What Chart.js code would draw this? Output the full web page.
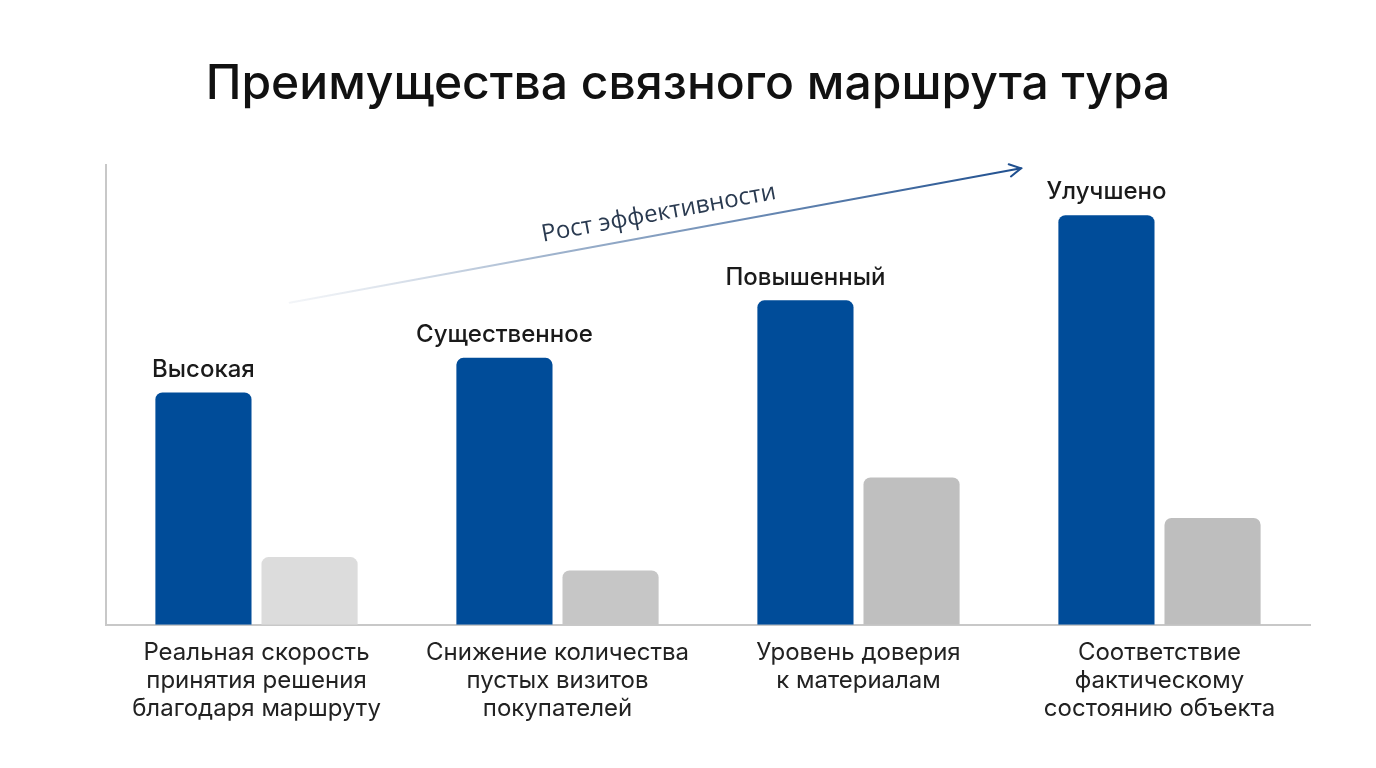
<!DOCTYPE html>
<html lang="ru">
<head>
<meta charset="utf-8">
<title>Преимущества связного маршрута тура</title>
<script src="https://cdn.jsdelivr.net/npm/chart.js@4.4.1/dist/chart.umd.min.js"></script>
<style>
    html, body { margin: 0; padding: 0; background: #ffffff; }
    #wrap { width: 1376px; height: 768px; position: relative; }
</style>
</head>
<body>
<div id="wrap"><canvas id="chart"></canvas></div>
<script>
    // Categories (multi-line axis labels)
    const categories = [
        ['Реальная скорость', 'принятия решения', 'благодаря маршруту'],
        ['Снижение количества', 'пустых визитов', 'покупателей'],
        ['Уровень доверия', 'к материалам'],
        ['Соответствие', 'фактическому', 'состоянию объекта']
    ];

    // Series values (relative scale 0-100)
    const improvedValues = [50.5, 58, 70.5, 89];
    const baselineValues = [14.7, 11.8, 32, 23.2];

    // Labels above the blue bars
    const barLabels = ['Высокая', 'Существенное', 'Повышенный', 'Улучшено'];

    const trendLabel = 'Рост эффективности';

    const colors = {
        blue: '#004c99',
        grays: ['#dcdcdc', '#c6c6c6', '#bfbfbf', '#bebebe'],
        axis: '#c8c8c8',
        text: '#1a1a1a',
        arrowEnd: '#1f4f8f'
    };

    // Labels drawn above each blue bar
    const barLabelPlugin = {
        id: 'barLabels',
        afterDatasetsDraw(chart) {
            const ctx = chart.ctx;
            const meta = chart.getDatasetMeta(0);
            ctx.save();
            ctx.font = '500 24px Inter, sans-serif';
            ctx.fillStyle = colors.text;
            ctx.textAlign = 'center';
            ctx.textBaseline = 'bottom';
            meta.data.forEach((bar, i) => {
                ctx.fillText(barLabels[i], bar.x, bar.y - 11);
            });
            ctx.restore();
        }
    };

    // Gradient trend arrow, placed in scale units
    const trendArrowPlugin = {
        id: 'trendArrow',
        afterDatasetsDraw(chart) {
            const ctx = chart.ctx;
            const xs = chart.scales.x;
            const ys = chart.scales.y;
            const x1 = xs.getPixelForValue(0.11), y1 = ys.getPixelForValue(70);
            const x2 = xs.getPixelForValue(2.54), y2 = ys.getPixelForValue(99.2);
            const angle = Math.atan2(y2 - y1, x2 - x1);

            ctx.save();
            const grad = ctx.createLinearGradient(x1, y1, x2, y2);
            grad.addColorStop(0, 'rgba(215, 222, 232, 0.3)');
            grad.addColorStop(0.35, 'rgba(150, 172, 200, 0.9)');
            grad.addColorStop(1, colors.arrowEnd);
            ctx.strokeStyle = grad;
            ctx.lineWidth = 2;
            ctx.lineCap = 'round';
            ctx.beginPath();
            ctx.moveTo(x1, y1);
            ctx.lineTo(x2, y2);
            ctx.stroke();

            // open arrow head
            const head = 13;
            ctx.strokeStyle = colors.arrowEnd;
            ctx.beginPath();
            ctx.moveTo(x2 - head * Math.cos(angle - 0.5), y2 - head * Math.sin(angle - 0.5));
            ctx.lineTo(x2, y2);
            ctx.lineTo(x2 - head * Math.cos(angle + 0.5), y2 - head * Math.sin(angle + 0.5));
            ctx.stroke();

            // label along the arrow
            const t = 0.51;
            const mx = x1 + (x2 - x1) * t;
            const my = y1 + (y2 - y1) * t;
            ctx.translate(mx, my);
            ctx.rotate(angle);
            ctx.font = '24px "Open Sans", sans-serif';
            ctx.fillStyle = '#2a3a50';
            ctx.textAlign = 'center';
            ctx.textBaseline = 'bottom';
            ctx.fillText(trendLabel, 0, -9);
            ctx.restore();
        }
    };

    const ctx = document.getElementById('chart');

    new Chart(ctx, {
        type: 'bar',
        data: {
            labels: categories,
            datasets: [
                {
                    label: 'С маршрутом',
                    data: improvedValues,
                    backgroundColor: colors.blue,
                    borderRadius: 7,
                    borderSkipped: 'bottom'
                },
                {
                    label: 'Без маршрута',
                    data: baselineValues,
                    backgroundColor: colors.grays,
                    borderRadius: 7,
                    borderSkipped: 'bottom'
                }
            ]
        },
        options: {
            responsive: true,
            maintainAspectRatio: false,
            animation: false,
            categoryPercentage: 0.705,
            barPercentage: 0.906,
            layout: {
                // symmetric so the title stays centred on the canvas
                padding: { left: 66, right: 66, top: 0, bottom: 31 }
            },
            plugins: {
                legend: { display: false },
                tooltip: { enabled: false },
                title: {
                    display: true,
                    text: 'Преимущества связного маршрута тура',
                    color: '#111111',
                    font: { size: 48, weight: '500', family: 'Inter, sans-serif' },
                    padding: { top: 56, bottom: 51 }
                }
            },
            scales: {
                x: {
                    grid: { display: false, drawTicks: false },
                    border: { color: colors.axis, width: 2 },
                    ticks: {
                        color: '#222222',
                        padding: 14,
                        font: { size: 24, family: 'Inter, sans-serif', lineHeight: 1.17 },
                        maxRotation: 0
                    }
                },
                y: {
                    min: 0,
                    max: 100,
                    grid: { display: false, drawTicks: false },
                    border: { color: colors.axis, width: 2 },
                    ticks: { display: false },
                    afterFit(scale) { scale.width = 40; }
                }
            }
        },
        plugins: [barLabelPlugin, trendArrowPlugin]
    });
</script>
</body>
</html>
